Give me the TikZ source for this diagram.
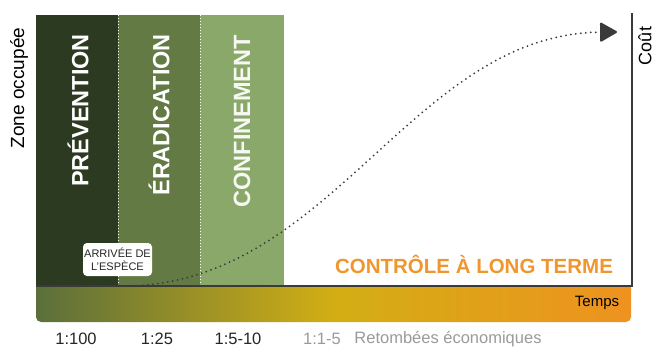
\documentclass[tikz,border=0pt]{standalone}
\usepackage{fontspec}
\setmainfont{Liberation Sans}
\usetikzlibrary{arrows.meta}
\definecolor{prevcol}{HTML}{2B3A20}
\definecolor{eradcol}{HTML}{637A45}
\definecolor{confcol}{HTML}{8BA86B}
\definecolor{barleft}{HTML}{5A6F3B}
\definecolor{barmid}{HTML}{D2AE14}
\definecolor{barright}{HTML}{EF921F}
\definecolor{orangetxt}{HTML}{F0962E}
\definecolor{axiscol}{HTML}{3A3A3A}
\definecolor{graytxt}{HTML}{9A9A9A}
\tikzset{
  phase/.style={rotate=90,anchor=east,inner sep=0pt,text=white,font=\fontsize{23.5}{27}\selectfont\bfseries},
  axislabel/.style={rotate=90,inner sep=0pt,font=\fontsize{19}{22}\selectfont},
  ratio/.style={inner sep=0pt,font=\fontsize{16.5}{20}\selectfont,text=black!85},
  sep/.style={white,line width=0.8pt,dash pattern=on 1pt off 2pt},
}
\begin{document}
\begin{tikzpicture}[x=1pt,y=-1pt]
\useasboundingbox (0,0) rectangle (655,347);
% phase columns
\fill[prevcol] (36,15) rectangle (118,286);
\fill[eradcol] (118,15) rectangle (200,286);
\fill[confcol] (200,15) rectangle (284,286);
\draw[sep] (118,15) -- (118,286);
\draw[sep] (200,15) -- (200,286);
% gradient bar
\shade[left color=barleft,right color=barright,middle color=barmid]
  (36,287) [rounded corners=5pt] -- (36,322) -- (631,322) [sharp corners] -- (631,287) -- cycle;
% axes
\draw[axiscol,line width=2pt] (36,286) -- (632,286);
\draw[axiscol,line width=2pt] (631.5,13) -- (631.5,287);
% phase labels
\node[phase] (prev) at (78,34) {PRÉVENTION};
\node[phase] (erad) at (159,34) {ÉRADICATION};
\node[phase,text=white!92!confcol] (conf) at (242,35) {CONFINEMENT};
% axis labels
\node[axislabel] (zone) at (19,88) {Zone occupée};
\node[axislabel,font=\fontsize{18}{20}\selectfont] (cout) at (645,46) {Coût};
\node[inner sep=0pt,font=\fontsize{15}{18}\selectfont] (temps) at (597,303) {Temps};
\node[inner sep=0pt,text=orangetxt,font=\fontsize{20.5}{24}\selectfont\bfseries] (lt) at (474,264) {CONTRÔLE À LONG TERME};
% curve
\coordinate (start) at (118,286);
\coordinate (end) at (617,32);
\draw[axiscol,line width=2pt,line cap=round,dash pattern=on 0pt off 5pt,
  -{Triangle[length=18pt,width=20pt,round]}]
  (start) .. controls (330,290) and (410,34) .. (end);
% arrival box
\node[fill=white,rounded corners=4pt,minimum width=69pt,minimum height=33pt,inner sep=1pt,
  align=center,font=\fontsize{11}{12.5}\selectfont,text=black!85] (arr) at (117.5,259.5)
  {ARRIVÉE DE\\L’ESPÈCE};
% ratios
\node[ratio] (r1) at (76,339) {1:100};
\node[ratio] (r2) at (157,339) {1:25};
\node[ratio] (r3) at (238,339) {1:5-10};
\node[ratio,text=graytxt] (r4) at (322,339) {1:1-5};
\node[ratio,text=graytxt] (r5) at (448,339) {Retombées économiques};
\end{tikzpicture}
\end{document}
